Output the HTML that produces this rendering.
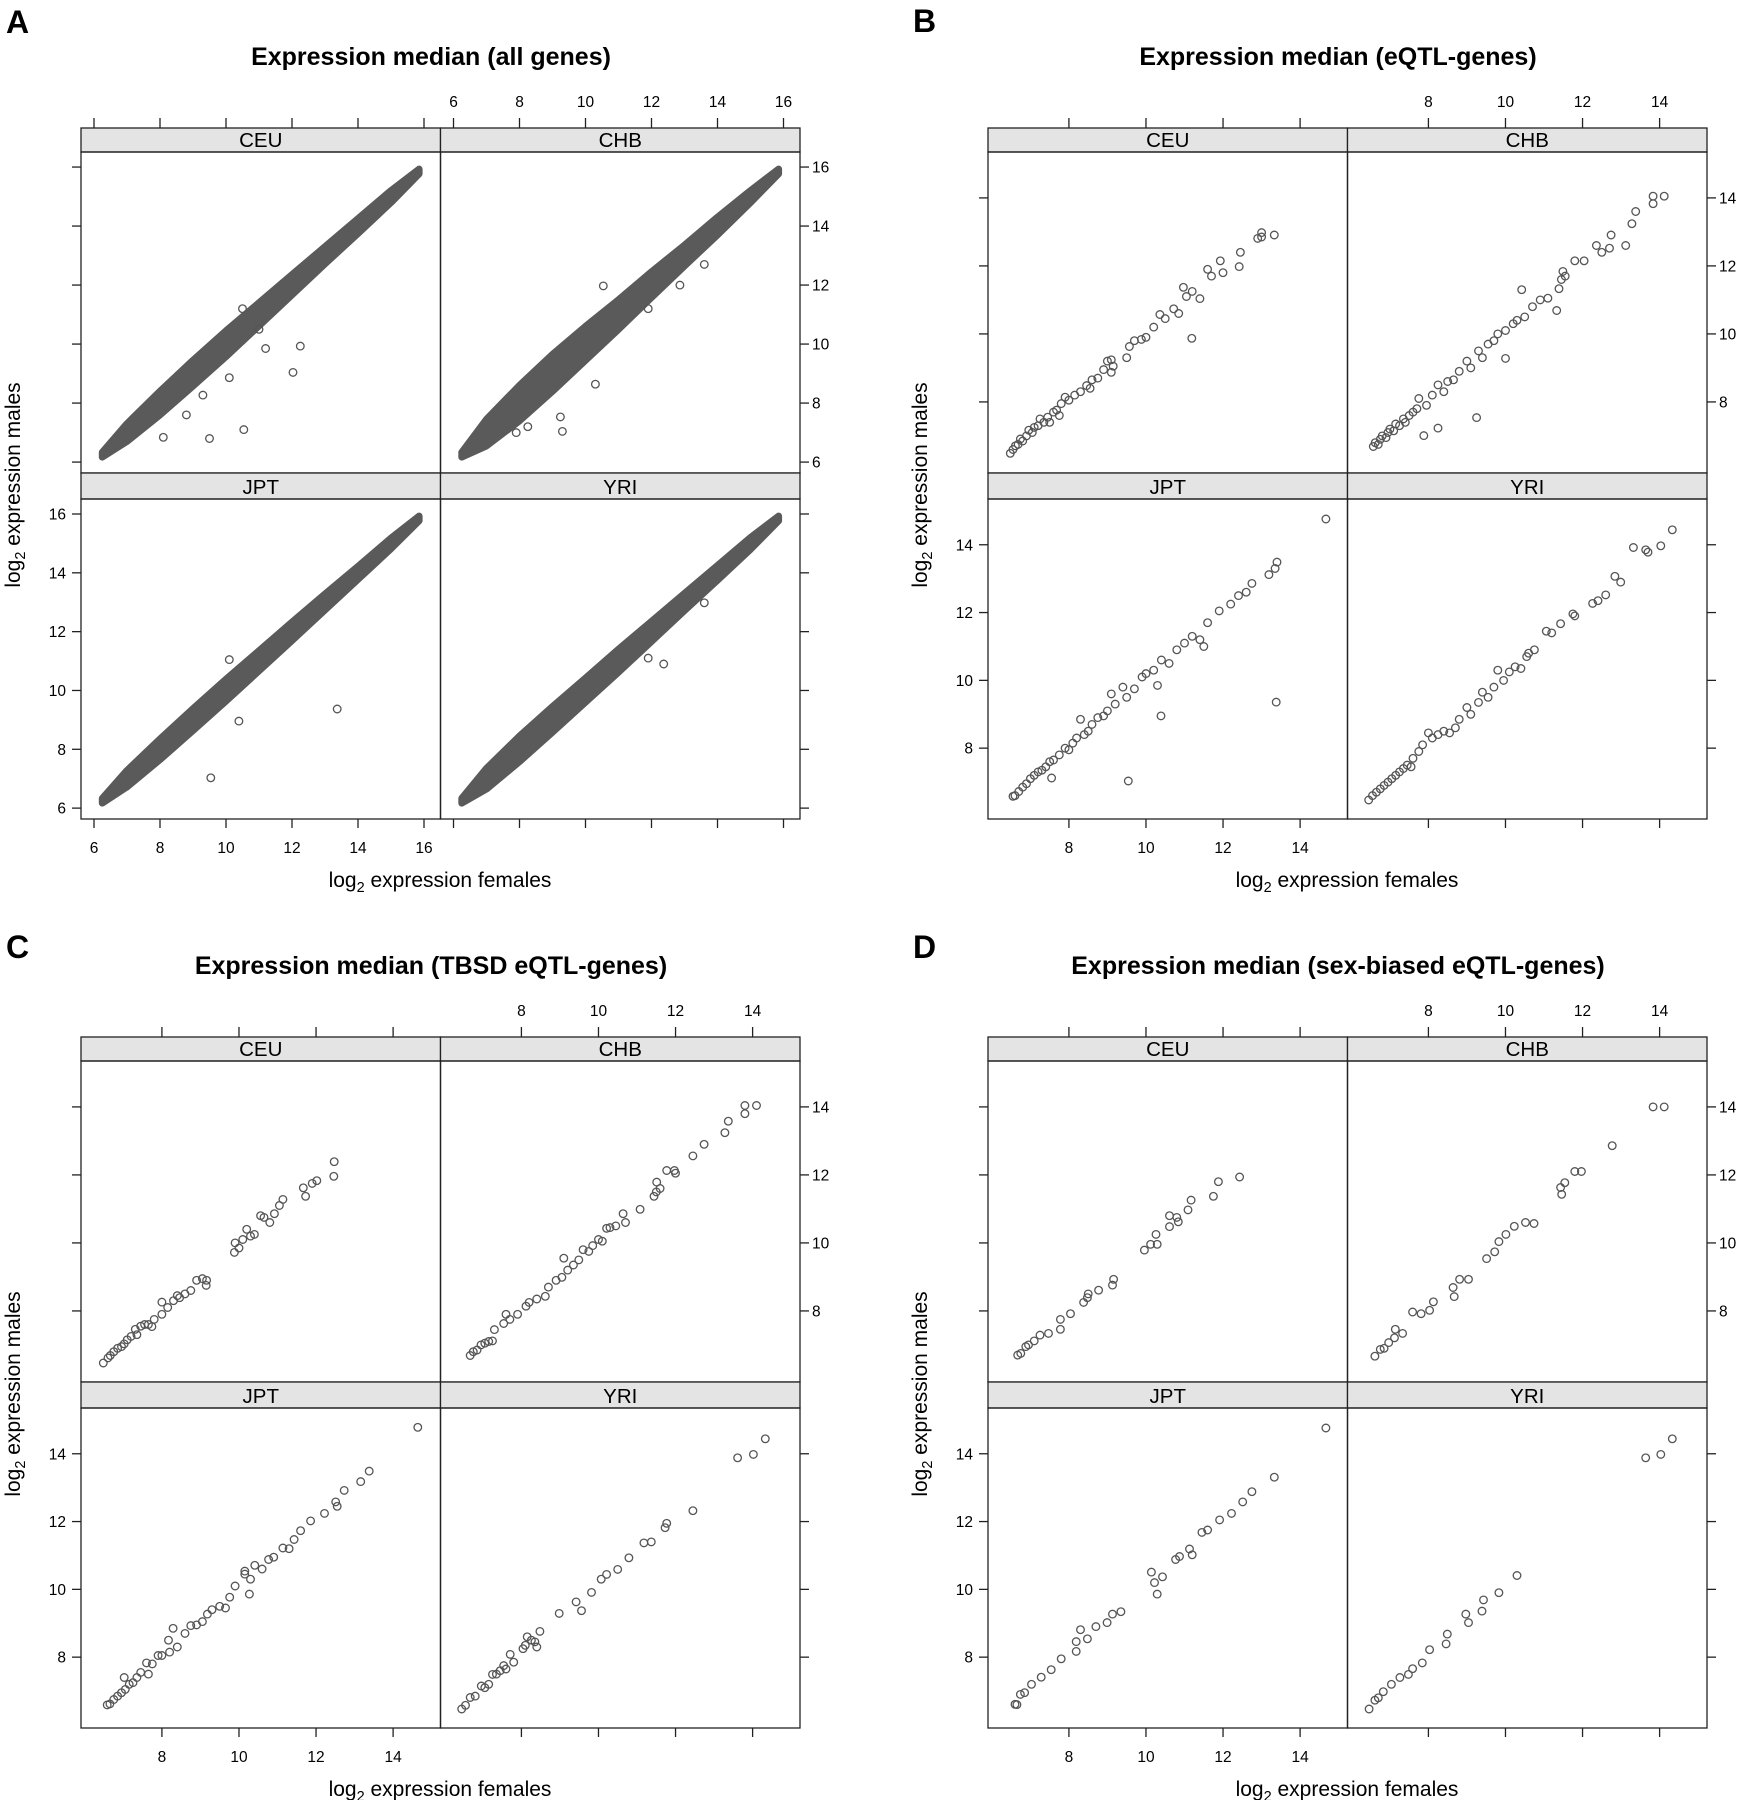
<!DOCTYPE html>
<html><head><meta charset="utf-8"><style>
html,body{margin:0;padding:0;background:#fff}
svg{display:block}
text{font-family:"Liberation Sans",Arial,sans-serif;fill:#000}
</style></head><body>
<svg id="fig" xmlns="http://www.w3.org/2000/svg" width="1744" height="1800" viewBox="0 0 1744 1800"></svg>
<script>
// ---------- Data ----------
const groups = ["CEU","CHB","JPT","YRI"];
// Panel A: dense band (centerline y = x) with upper/lower half-widths, plus outliers
const bandX = [6.25,7,8,9,10,11,12,13,14,15,15.85];
const bandUpCEU = [0.08,0.3,0.4,0.45,0.45,0.4,0.35,0.3,0.25,0.2,0.08];
const bandLoCEU = [0.08,0.3,0.4,0.42,0.42,0.38,0.33,0.28,0.25,0.2,0.08];
const bandUpCHB = [0.08,0.45,0.6,0.65,0.6,0.5,0.45,0.35,0.3,0.2,0.08];
const bandLoCHB = [0.08,0.45,0.6,0.6,0.55,0.5,0.42,0.35,0.3,0.2,0.08];
const bandUpJPT = [0.08,0.28,0.35,0.38,0.38,0.35,0.32,0.28,0.22,0.18,0.08];
const bandLoJPT = [0.08,0.28,0.35,0.36,0.36,0.33,0.3,0.26,0.22,0.18,0.08];
const bandUpYRI = [0.08,0.35,0.45,0.45,0.42,0.4,0.35,0.3,0.25,0.2,0.08];
const bandLoYRI = [0.08,0.35,0.42,0.42,0.4,0.38,0.33,0.28,0.25,0.2,0.08];
const outA_CEU = [[8.1,6.84],[9.5,6.8],[10.54,7.1],[8.8,7.6],[10.1,8.86],[12.03,9.04],[12.25,9.93],[11.2,9.85],[9.3,8.27],[11.0,10.5],[10.5,11.2]];
const outA_CHB = [[9.3,7.04],[9.24,7.53],[8.25,7.2],[10.3,8.64],[12.86,12.0],[10.54,11.97],[7.9,7.0],[11.9,11.2],[13.6,12.7]];
const outA_JPT = [[9.54,7.03],[10.39,8.96],[13.37,9.37],[10.1,11.05]];
const outA_YRI = [[12.37,10.9],[11.9,11.1],[13.6,12.98]];

const B_CEU = [[6.48,6.49],[6.55,6.6],[6.61,6.71],[6.68,6.75],[6.74,6.91],[6.8,6.85],[6.9,7.0],[6.96,7.17],[7.05,7.1],[7.1,7.25],[7.2,7.3],[7.25,7.5],[7.35,7.4],[7.45,7.55],[7.5,7.4],[7.6,7.7],[7.68,7.76],[7.75,7.6],[7.8,7.95],[7.9,8.14],[8.0,8.05],[8.15,8.2],[8.3,8.3],[8.46,8.48],[8.55,8.4],[8.6,8.65],[8.75,8.7],[8.9,8.95],[9.0,9.2],[9.1,9.24],[9.1,8.87],[9.15,9.05],[9.5,9.3],[9.57,9.63],[9.7,9.8],[9.88,9.84],[10.0,9.9],[10.2,10.2],[10.36,10.57],[10.5,10.45],[10.72,10.74],[10.85,10.6],[10.97,11.37],[11.05,11.1],[11.19,9.87],[11.2,11.25],[11.4,11.04],[11.6,11.9],[11.7,11.7],[11.93,12.15],[12.0,11.8],[12.42,11.98],[12.45,12.4],[12.9,12.81],[13.0,12.98],[13.0,12.85],[13.33,12.91]];
const B_CHB = [[6.57,6.69],[6.62,6.8],[6.7,6.75],[6.75,6.9],[6.8,7.0],[6.9,6.95],[6.95,7.1],[7.0,7.2],[7.1,7.15],[7.15,7.35],[7.25,7.3],[7.35,7.5],[7.4,7.4],[7.5,7.6],[7.6,7.7],[7.7,7.8],[7.75,8.1],[7.88,7.01],[7.95,7.9],[8.1,8.2],[8.25,7.23],[8.25,8.5],[8.4,8.3],[8.5,8.6],[8.65,8.65],[8.8,8.9],[9.0,9.2],[9.1,9.0],[9.25,7.54],[9.3,9.5],[9.4,9.3],[9.55,9.7],[9.7,9.8],[9.8,10.0],[10.0,9.28],[10.0,10.1],[10.2,10.3],[10.3,10.4],[10.42,11.3],[10.5,10.5],[10.7,10.8],[10.9,11.0],[11.1,11.05],[11.33,10.69],[11.39,11.33],[11.45,11.6],[11.49,11.84],[11.55,11.7],[11.8,12.15],[12.04,12.15],[12.36,12.6],[12.5,12.4],[12.7,12.52],[12.74,12.91],[13.12,12.6],[13.28,13.24],[13.38,13.6],[13.83,13.83],[13.83,14.05],[14.12,14.05]];
const B_JPT = [[6.55,6.58],[6.6,6.6],[6.7,6.72],[6.8,6.85],[6.9,6.95],[7.0,7.1],[7.1,7.2],[7.2,7.3],[7.3,7.35],[7.4,7.45],[7.5,7.6],[7.55,7.12],[7.6,7.65],[7.75,7.8],[7.9,8.0],[8.0,7.95],[8.1,8.15],[8.2,8.3],[8.3,8.85],[8.4,8.4],[8.5,8.5],[8.6,8.7],[8.75,8.9],[8.9,8.95],[9.0,9.1],[9.1,9.6],[9.2,9.3],[9.4,9.8],[9.5,9.5],[9.54,7.03],[9.7,9.75],[9.9,10.1],[10.0,10.2],[10.2,10.3],[10.3,9.85],[10.39,8.95],[10.4,10.6],[10.6,10.5],[10.8,10.9],[11.0,11.1],[11.2,11.3],[11.4,11.2],[11.5,11.0],[11.6,11.7],[11.9,12.05],[12.2,12.25],[12.4,12.5],[12.6,12.6],[12.75,12.86],[13.19,13.12],[13.35,13.3],[13.4,13.49],[13.38,9.36],[14.67,14.76]];
const B_YRI = [[6.45,6.47],[6.55,6.6],[6.65,6.7],[6.75,6.8],[6.85,6.9],[6.95,7.0],[7.05,7.1],[7.15,7.2],[7.25,7.3],[7.35,7.4],[7.45,7.5],[7.55,7.45],[7.6,7.7],[7.75,7.9],[7.85,8.1],[8.0,8.45],[8.1,8.3],[8.25,8.4],[8.4,8.5],[8.55,8.45],[8.7,8.6],[8.8,8.85],[9.0,9.2],[9.1,9.0],[9.3,9.35],[9.4,9.65],[9.55,9.5],[9.7,9.8],[9.8,10.3],[9.95,10.0],[10.1,10.25],[10.25,10.4],[10.4,10.35],[10.55,10.7],[10.6,10.8],[10.75,10.9],[11.06,11.45],[11.2,11.4],[11.43,11.67],[11.75,11.96],[11.8,11.9],[12.26,12.27],[12.4,12.35],[12.6,12.52],[12.84,13.07],[12.99,12.9],[13.32,13.92],[13.64,13.85],[13.7,13.78],[14.03,13.97],[14.33,14.44]];

const C_CEU = [[6.48,6.47],[6.6,6.62],[6.66,6.69],[6.75,6.8],[6.85,6.9],[6.95,6.95],[7.02,7.03],[7.1,7.15],[7.2,7.25],[7.31,7.46],[7.35,7.3],[7.45,7.55],[7.55,7.6],[7.65,7.6],[7.74,7.54],[7.8,7.75],[8.0,8.26],[8.0,7.9],[8.15,8.1],[8.3,8.3],[8.4,8.45],[8.46,8.39],[8.6,8.5],[8.75,8.6],[8.9,8.9],[9.05,8.95],[9.16,8.9],[9.15,8.75],[9.88,9.72],[9.9,10.0],[10.0,9.85],[10.1,10.1],[10.2,10.4],[10.3,10.2],[10.4,10.25],[10.56,10.8],[10.65,10.75],[10.8,10.6],[10.92,10.86],[11.05,11.1],[11.14,11.28],[11.67,11.62],[11.73,11.37],[11.9,11.75],[12.02,11.83],[12.46,11.96],[12.47,12.39]];
const C_CHB = [[6.67,6.69],[6.75,6.8],[6.85,6.85],[6.95,7.0],[7.05,7.05],[7.15,7.1],[7.25,7.12],[7.3,7.45],[7.54,7.63],[7.6,7.9],[7.7,7.75],[7.9,7.9],[8.12,8.14],[8.2,8.25],[8.4,8.35],[8.62,8.43],[8.7,8.7],[8.9,8.9],[9.05,8.99],[9.1,9.55],[9.2,9.2],[9.35,9.35],[9.49,9.5],[9.6,9.8],[9.75,9.75],[9.85,9.92],[10.0,10.1],[10.1,10.05],[10.21,10.43],[10.3,10.45],[10.45,10.5],[10.64,10.86],[10.7,10.6],[11.08,10.99],[11.44,11.37],[11.5,11.5],[11.51,11.79],[11.6,11.6],[11.77,12.13],[11.97,12.13],[12.0,12.05],[12.45,12.56],[12.74,12.9],[13.28,13.24],[13.37,13.58],[13.8,13.8],[13.8,14.04],[14.1,14.04]];
const C_JPT = [[6.58,6.59],[6.65,6.62],[6.75,6.75],[6.85,6.85],[6.95,6.95],[7.02,7.4],[7.05,7.05],[7.15,7.2],[7.25,7.25],[7.35,7.4],[7.45,7.55],[7.6,7.83],[7.65,7.5],[7.75,7.8],[7.9,8.05],[8.0,8.05],[8.17,8.5],[8.2,8.15],[8.29,8.85],[8.4,8.3],[8.6,8.7],[8.75,8.93],[8.9,8.95],[9.05,9.05],[9.18,9.27],[9.3,9.4],[9.5,9.5],[9.65,9.45],[9.76,9.77],[9.9,10.1],[10.15,10.54],[10.15,10.45],[10.27,9.86],[10.3,10.3],[10.41,10.71],[10.6,10.6],[10.77,10.88],[10.9,10.95],[11.14,11.22],[11.3,11.2],[11.43,11.47],[11.6,11.73],[11.86,12.02],[12.22,12.24],[12.51,12.58],[12.55,12.45],[12.73,12.92],[13.16,13.18],[13.38,13.49],[14.64,14.78]];
const C_YRI = [[6.45,6.47],[6.55,6.58],[6.67,6.81],[6.8,6.85],[6.96,7.15],[7.05,7.1],[7.15,7.2],[7.25,7.49],[7.35,7.5],[7.45,7.6],[7.54,7.75],[7.6,7.65],[7.71,8.08],[7.8,7.85],[8.04,8.25],[8.1,8.35],[8.15,8.6],[8.26,8.5],[8.35,8.45],[8.4,8.3],[8.48,8.76],[8.98,9.29],[9.42,9.63],[9.56,9.37],[9.82,9.91],[10.07,10.3],[10.21,10.44],[10.5,10.59],[10.79,10.93],[11.18,11.37],[11.37,11.4],[11.73,11.82],[11.77,11.95],[12.45,12.32],[13.61,13.88],[14.02,13.98],[14.33,14.44]];

const D_CEU = [[6.67,6.7],[6.75,6.75],[6.88,6.95],[6.95,7.0],[7.1,7.12],[7.25,7.29],[7.47,7.34],[7.78,7.46],[7.78,7.75],[8.04,7.92],[8.38,8.25],[8.48,8.39],[8.5,8.5],[8.77,8.61],[9.13,8.76],[9.16,8.93],[9.96,9.79],[10.12,9.96],[10.29,9.96],[10.26,10.25],[10.61,10.48],[10.61,10.8],[10.84,10.62],[10.8,10.75],[11.09,10.97],[11.17,11.26],[11.75,11.37],[11.88,11.8],[12.43,11.94]];
const D_CHB = [[6.61,6.67],[6.75,6.87],[6.85,6.9],[6.97,7.07],[7.12,7.21],[7.14,7.46],[7.33,7.34],[7.59,7.97],[7.81,7.92],[8.03,8.02],[8.13,8.27],[8.67,8.42],[8.64,8.69],[8.81,8.93],[9.04,8.93],[9.51,9.54],[9.72,9.74],[9.83,10.04],[10.01,10.25],[10.23,10.49],[10.52,10.6],[10.74,10.57],[11.43,11.63],[11.46,11.43],[11.54,11.77],[11.8,12.1],[11.97,12.1],[12.77,12.86],[13.83,14.0],[14.12,14.0]];
const D_JPT = [[6.6,6.61],[6.65,6.6],[6.74,6.9],[6.85,6.95],[7.03,7.2],[7.28,7.41],[7.54,7.63],[7.8,7.95],[8.19,8.17],[8.19,8.46],[8.48,8.54],[8.3,8.81],[8.7,8.9],[8.99,9.02],[9.13,9.27],[9.35,9.34],[10.29,9.86],[10.22,10.2],[10.14,10.51],[10.43,10.37],[10.77,10.88],[10.87,10.97],[11.13,11.19],[11.2,11.02],[11.45,11.68],[11.6,11.75],[11.91,12.05],[12.22,12.24],[12.51,12.58],[12.75,12.88],[13.33,13.31],[14.67,14.76]];
const D_YRI = [[6.46,6.47],[6.61,6.73],[6.7,6.8],[6.83,6.98],[7.04,7.2],[7.26,7.4],[7.48,7.49],[7.59,7.66],[7.84,7.83],[8.03,8.22],[8.46,8.39],[8.49,8.68],[8.97,9.27],[9.04,9.02],[9.39,9.36],[9.43,9.69],[9.83,9.9],[10.3,10.41],[13.64,13.88],[14.03,13.98],[14.33,14.44]];

const ticksA = [6,8,10,12,14,16];
const ticksB = [8,10,12,14];

// ---------- Drawing ----------
const NS = "http://www.w3.org/2000/svg";
const svg = document.getElementById("fig");
function mk(tag, attrs, parent){
  const e = document.createElementNS(NS, tag);
  for (const k in attrs) e.setAttribute(k, attrs[k]);
  (parent||svg).appendChild(e);
  return e;
}
// frame geometry (relative to figure panel origin)
const L=81, M=440.5, R=800, T=128, S1=152, B1=473, S2=499, BT=819;
const colX = [[L,M],[M,R]];
const rowY = [[S1,B1],[S2,BT]];

function figure(ox, oy, letter, letterY, title, xd, yd, ticks, cells, band){
  const g = mk("g", {transform:`translate(${ox},${oy})`});
  
  
  const lt = mk("text", {x:6, y:letterY, "font-size":32, "font-weight":"bold"}, g);
  lt.textContent = letter;
  
  
  const tt = mk("text", {x:431, y:65, "font-size":25, "font-weight":"bold", "text-anchor":"middle"}, g);
  tt.textContent = title;
  
  

  const sx = (c,v)=> colX[c][0] + (v - xd[0])/(xd[1]-xd[0])*(colX[c][1]-colX[c][0]);
  const sy = (r,v)=> rowY[r][1] - (v - yd[0])/(yd[1]-yd[0])*(rowY[r][1]-rowY[r][0]);

  const pos = [[0,0],[1,0],[0,1],[1,1]];
  cells.forEach((pts, i)=>{
    const [c,r] = pos[i];
    const cg = mk("g", {}, g);
    
    
    const stTop = r===0 ? T : B1;
    const st = mk("rect", {x:colX[c][0], y:stTop, width:colX[c][1]-colX[c][0], height:(r===0?S1:S2)-stTop, fill:"#e4e4e4", stroke:"#222", "stroke-width":1.3}, cg);
    
    
    const sl = mk("text", {x:(colX[c][0]+colX[c][1])/2, y:(r===0?S1:S2)-5, "font-size":20.5, "text-anchor":"middle"}, cg);
    sl.textContent = groups[i];
    
    
    if (band){
      const up = band[i][0], lo = band[i][1];
      let d = "";
      bandX.forEach((x,k)=>{ d += (k?"L":"M") + sx(c,x).toFixed(1) + "," + sy(r,x+up[k]).toFixed(1); });
      for (let k=bandX.length-1;k>=0;k--){ d += "L" + sx(c,bandX[k]).toFixed(1) + "," + sy(r,bandX[k]-lo[k]).toFixed(1); }
      d += "Z";
      const bp = mk("path", {d:d, fill:"#5a5a5a", stroke:"#5a5a5a", "stroke-width":7, "stroke-linejoin":"round"}, cg);
      
      
    }
    pts.forEach(p=>{
      const ci = mk("circle", {cx:sx(c,p[0]).toFixed(1), cy:sy(r,p[1]).toFixed(1), r:3.8, fill:"none", stroke:"#555", "stroke-width":1.3}, cg);
      
      
    });
    const cb = mk("rect", {x:colX[c][0], y:rowY[r][0], width:colX[c][1]-colX[c][0], height:rowY[r][1]-rowY[r][0], fill:"none", stroke:"#222", "stroke-width":1.3}, cg);
    
    
  });

  const ax = mk("g", {stroke:"#222", "stroke-width":1.3}, g);
  
  
  ticks.forEach(t=>{
    for (let c=0;c<2;c++){
      const x = sx(c,t);
      mk("line", {x1:x, y1:T-10, x2:x, y2:T}, ax);
      mk("line", {x1:x, y1:BT, x2:x, y2:BT+9}, ax);
    }
    const tl = mk("text", {x:sx(1,t), y:107, "font-size":15.5, "text-anchor":"middle", stroke:"none"}, g);
    tl.textContent = t;
    
    
    const bl = mk("text", {x:sx(0,t), y:853, "font-size":15.5, "text-anchor":"middle", stroke:"none"}, g);
    bl.textContent = t;
    
    
    for (let r=0;r<2;r++){
      const y = sy(r,t);
      mk("line", {x1:L-9, y1:y, x2:L, y2:y}, ax);
      mk("line", {x1:R, y1:y, x2:R+9, y2:y}, ax);
    }
    const rl = mk("text", {x:R+12, y:sy(0,t)+5.5, "font-size":15.5, stroke:"none"}, g);
    rl.textContent = t;
    
    
    const ll = mk("text", {x:L-15, y:sy(1,t)+5.5, "font-size":15.5, "text-anchor":"end", stroke:"none"}, g);
    ll.textContent = t;
    
    
  });

  const xl = mk("text", {x:440, y:887, "font-size":21, "text-anchor":"middle"}, g);
  xl.innerHTML = 'log<tspan font-size="14.5" dy="5">2</tspan><tspan dy="-5"> expression females</tspan>';
  
  
  const yl = mk("text", {x:0, y:0, "font-size":21, "text-anchor":"middle", transform:"translate(20,485) rotate(-90)"}, g);
  yl.innerHTML = 'log<tspan font-size="14.5" dy="5">2</tspan><tspan dy="-5"> expression males</tspan>';
  
  
}

const xdA=[5.606,16.5], ydA=[5.63,16.51];
const xdB=[5.9,15.23], ydB=[5.91,15.35];
figure(0,0,"A",33,"Expression median (all genes)",xdA,ydA,ticksA,[outA_CEU,outA_CHB,outA_JPT,outA_YRI],
  [[bandUpCEU,bandLoCEU],[bandUpCHB,bandLoCHB],[bandUpJPT,bandLoJPT],[bandUpYRI,bandLoYRI]]);
figure(907,0,"B",32,"Expression median (eQTL-genes)",xdB,ydB,ticksB,[B_CEU,B_CHB,B_JPT,B_YRI],null);
figure(0,909,"C",49,"Expression median (TBSD eQTL-genes)",xdB,ydB,ticksB,[C_CEU,C_CHB,C_JPT,C_YRI],null);
figure(907,909,"D",49,"Expression median (sex-biased eQTL-genes)",xdB,ydB,ticksB,[D_CEU,D_CHB,D_JPT,D_YRI],null);
</script>
</body></html>
